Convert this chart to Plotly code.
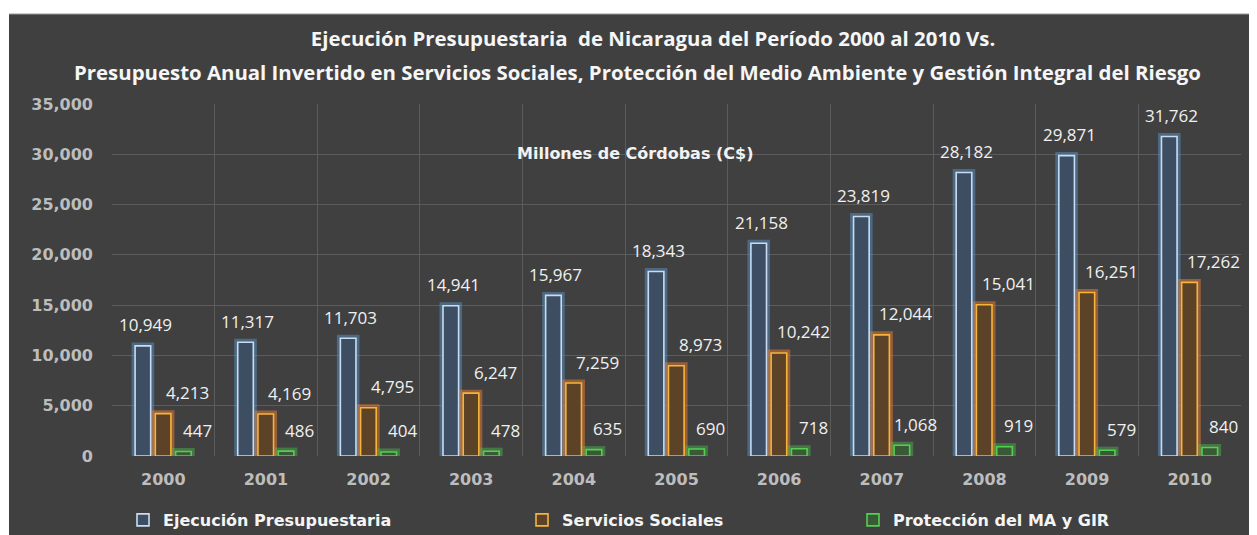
import plotly.graph_objects as go

# data (millones de córdobas)
anios = ["2000", "2001", "2002", "2003", "2004", "2005", "2006", "2007", "2008", "2009", "2010"]
ejecucion = [10949, 11317, 11703, 14941, 15967, 18343, 21158, 23819, 28182, 29871, 31762]
servicios = [4213, 4169, 4795, 6247, 7259, 8973, 10242, 12044, 15041, 16251, 17262]
proteccion = [447, 486, 404, 478, 635, 690, 718, 1068, 919, 579, 840]

nombres = ["Ejecución Presupuestaria", "Servicios Sociales", "Protección del MA y GIR"]

titulo_1 = "Ejecución Presupuestaria  de Nicaragua del Período 2000 al 2010 Vs."
titulo_2 = ("Presupuesto Anual Invertido en Servicios Sociales, Protección del Medio Ambiente "
            "y Gestión Integral del Riesgo")

BG = "#404040"
CAL = "Open Sans"      # stands in for Calibri
ARI = "DejaVu Sans"    # stands in for (stretched) Arial

# (values, fill, outline, glow, offset, label xshift)
series = [
    (ejecucion, "#3d4e63", "#c9dcf2", "rgba(91,155,213,0.45)", -0.275, -18),
    (servicios, "#5c4328", "#f5b53c", "rgba(237,125,49,0.50)", -0.078, 24),
    (proteccion, "#3a5a36", "#52d052", "rgba(80,200,80,0.40)", 0.12, 34),
]
bar_w = 0.152

# the page puts the figure 8px in from the top-left corner
OFF = 8
PL, PT, PW, PH = 112 - OFF, 104 - OFF, 1129, 352   # plot area, figure px


def px(x):  # screenshot x -> paper x
    return (x - OFF - PL) / PW


def py(y):  # screenshot y -> paper y
    return (PT + PH - (y - OFF)) / PH


fig = go.Figure()

# soft glow behind each bar
for vals, fill, line, glow, off, _ in series:
    fig.add_bar(x=anios, y=vals, width=bar_w, offset=off,
                marker=dict(color="rgba(0,0,0,0)", line=dict(color=glow, width=7)),
                showlegend=False, hoverinfo="skip")

legends = ["legend", "legend2", "legend3"]
for i, (vals, fill, line, glow, off, _) in enumerate(series):
    fig.add_bar(x=anios, y=vals, width=bar_w, offset=off, name=nombres[i],
                marker=dict(color=fill, line=dict(color=line, width=1.6)),
                legend=legends[i])

# data labels (category index as x)
for vals, fill, line, glow, off, dx in series:
    for i, v in enumerate(vals):
        fig.add_annotation(x=i, y=v, text=f"{v:,}", showarrow=False,
                           xshift=dx, yshift=21, yanchor="middle",
                           font=dict(family=CAL, size=17, color="#f0f0f0"))

fig.add_annotation(x=px(635), y=py(142), xref="paper", yref="paper",
                   text="<b>Millones de Córdobas (C$)</b>", showarrow=False,
                   font=dict(family=ARI, size=16, color="#f2f2f2"))

# second title line
fig.add_annotation(x=px(637), y=py(72), xref="paper", yref="paper", yanchor="middle",
                   text=f"<b>{titulo_2}</b>", showarrow=False,
                   font=dict(family=CAL, size=20.4, color="#f6f6f6"))

# white top strip and light frame edge from the screenshot
fig.add_shape(type="rect", xref="paper", yref="paper", layer="below",
              x0=px(0), x1=1.1, y0=py(14), y1=py(0),
              fillcolor="white", line_width=0)
fig.add_shape(type="rect", xref="paper", yref="paper", layer="below",
              x0=px(0), x1=px(9), y0=py(540), y1=py(0),
              fillcolor="white", line_width=0)
fig.add_shape(type="line", xref="paper", yref="paper", layer="below",
              x0=px(9), x1=1.1, y0=py(14), y1=py(14),
              line=dict(color="#9a9a9a", width=1))

legend_common = dict(orientation="h", yanchor="middle", y=py(520), xanchor="left",
                     bgcolor="rgba(0,0,0,0)",
                     font=dict(family=ARI, size=16, color="#f4f4f4", weight="bold"))

fig.update_layout(
    width=1257, height=535,
    margin=dict(l=PL, r=1257 - PL - PW, t=PT, b=535 - PT - PH, autoexpand=False),
    paper_bgcolor=BG, plot_bgcolor=BG,
    barmode="overlay",
    title=dict(text=f"<b>{titulo_1}</b>", x=px(653), xref="paper", xanchor="center",
               y=1 - (39 - OFF) / 535, yanchor="middle",
               font=dict(family=CAL, size=20.4, color="#f6f6f6")),
    legend=dict(legend_common, x=px(123)),
    legend2=dict(legend_common, x=px(522)),
    legend3=dict(legend_common, x=px(853)),
    xaxis=dict(type="category", tickson="boundaries", showgrid=True, gridcolor="#5c5c5c",
               gridwidth=1, ticks="", range=[-0.5, 10.5], ticklabelstandoff=12,
               tickfont=dict(family=ARI, size=16, color="#bdbdbd", weight="bold")),
    yaxis=dict(range=[0, 35000], dtick=5000, tickformat=",", showgrid=True, gridcolor="#5c5c5c",
               gridwidth=1, zeroline=False, ticklabelstandoff=18,
               tickfont=dict(family=ARI, size=16, color="#bdbdbd", weight="bold")),
)

fig.write_html("out.html")
